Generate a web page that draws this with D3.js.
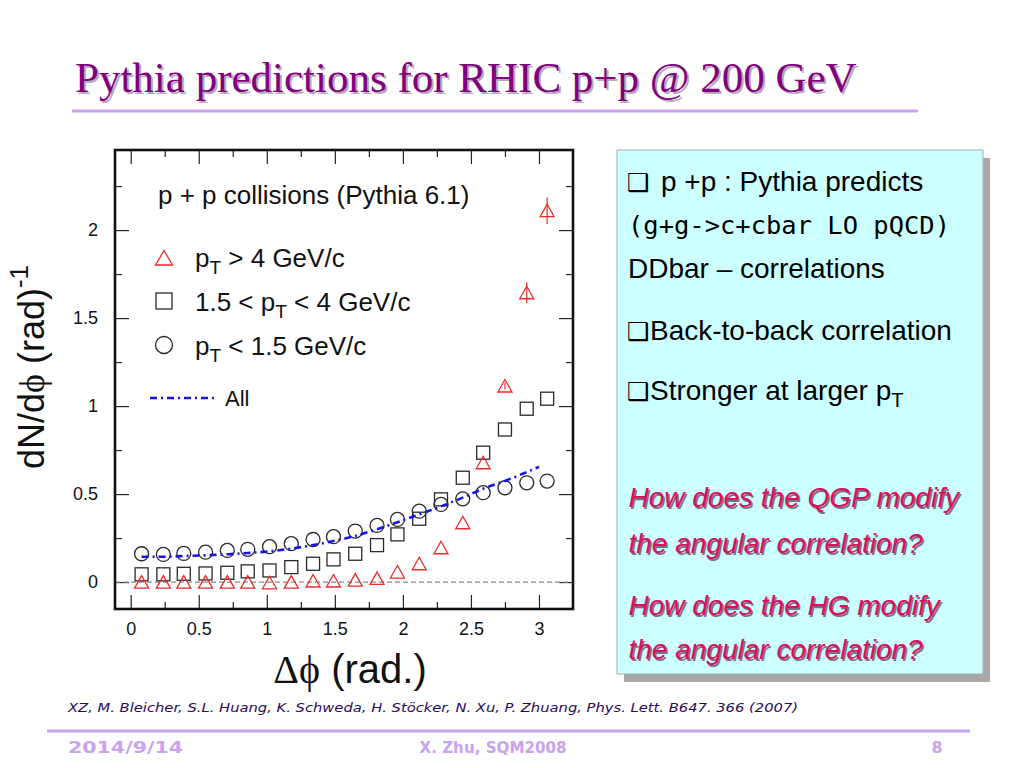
<!DOCTYPE html>
<html>
<head>
<meta charset="utf-8">
<script src="https://cdn.jsdelivr.net/npm/d3@7"></script>
<style>
  html, body { margin: 0; padding: 0; background: #fff; }
  svg { display: block; }
</style>
</head>
<body>
<svg id="chart" width="1024" height="768"></svg>
<script>
// ---------------- data ----------------
const binCenters = [0.08, 0.24, 0.39, 0.55, 0.71, 0.86, 1.02, 1.18, 1.34, 1.49,
                    1.65, 1.81, 1.96, 2.12, 2.28, 2.44, 2.59, 2.75, 2.91, 3.06];
const highPt = [0.0, 0.0, 0.0, 0.0, 0.0, 0.0, -0.004, 0.0, 0.006, 0.006,
                0.011, 0.021, 0.057, 0.104, 0.195, 0.337, 0.678, 1.114, 1.644, 2.11];
const highPtErr = [0, 0, 0, 0, 0, 0, 0, 0, 0, 0,
                   0, 0, 0, 0, 0, 0, 0, 0.02, 0.06, 0.075];
const midPt = [0.044, 0.044, 0.047, 0.049, 0.053, 0.061, 0.066, 0.085, 0.104, 0.129,
               0.161, 0.210, 0.271, 0.360, 0.470, 0.593, 0.735, 0.867, 0.985, 1.042];
const lowPt = [0.161, 0.157, 0.163, 0.170, 0.180, 0.186, 0.201, 0.218, 0.242, 0.258,
               0.290, 0.322, 0.356, 0.403, 0.441, 0.473, 0.508, 0.536, 0.564, 0.574];
const allX = [0.08, 0.24, 0.39, 0.55, 0.71, 0.86, 1.02, 1.18, 1.34, 1.49,
              1.65, 1.81, 1.96, 2.12, 2.28, 2.44, 2.59, 2.75, 2.91, 3.00];
const allVals = [0.144, 0.144, 0.148, 0.152, 0.158, 0.165, 0.175, 0.190, 0.210, 0.233,
                 0.262, 0.300, 0.340, 0.385, 0.430, 0.480, 0.530, 0.575, 0.625, 0.655];

const xMajorTicks = [0, 0.5, 1, 1.5, 2, 2.5, 3];
const xTickLabels = ["0", "0.5", "1", "1.5", "2", "2.5", "3"];
const xMinorTicks = [0.25, 0.75, 1.25, 1.75, 2.25, 2.75, 3.25];
const yMajorTicks = [0, 0.5, 1, 1.5, 2];
const yTickLabels = ["0", "0.5", "1", "1.5", "2"];
const yMinorTicks = [0.25, 0.75, 1.25, 1.75, 2.25];

const slideTitle = "Pythia predictions for RHIC p+p @ 200 GeV";
const citation = "XZ, M. Bleicher, S.L. Huang, K. Schweda, H. Stöcker, N. Xu, P. Zhuang, Phys. Lett. B647. 366 (2007)";
const footerDate = "2014/9/14";
const footerAuthor = "X. Zhu, SQM2008";
const footerPage = "8";

// ---------------- drawing ----------------
const svg = d3.select("#chart");
const SANS = "'Liberation Sans', Arial, sans-serif";
const SERIF = "'Liberation Serif', 'DejaVu Serif', serif";

// Title with shadow
const titleG = svg.append("g");
titleG.append("text").attr("x", 77).attr("y", 94)
  .attr("font-family", SERIF).attr("font-size", 43).attr("fill", "#b8a8b8")
  .text(slideTitle);
titleG.append("text").attr("x", 75).attr("y", 92)
  .attr("font-family", SERIF).attr("font-size", 43).attr("fill", "#800080")
  .text(slideTitle);
svg.append("line").attr("x1", 72).attr("x2", 918).attr("y1", 111).attr("y2", 111)
  .attr("stroke", "#c9a3ee").attr("stroke-width", 3);

// Plot
const L = 115, R = 573, T = 150, B = 609;
const x = d3.scaleLinear().domain([-0.1154, 3.25]).range([L, R]);
const y = d3.scaleLinear().domain([-0.153, 2.455]).range([B, T]);

const plot = svg.append("g");
plot.append("rect").attr("x", L).attr("y", T).attr("width", R - L).attr("height", B - T)
  .attr("fill", "#fff");

function styleAxis(g) {
  g.select(".domain").remove();
  g.selectAll(".tick line").attr("stroke", "#222").attr("stroke-width", 1.2);
  g.selectAll(".tick text").attr("font-family", SANS).attr("font-size", 18).attr("fill", "#111");
}
// bottom
plot.append("g").attr("transform", `translate(0,${B})`)
  .call(d3.axisBottom(x).tickValues(xMajorTicks).tickSizeInner(-14).tickSizeOuter(0)
    .tickPadding(13).tickFormat((d, i) => xTickLabels[i]))
  .call(styleAxis);
plot.append("g").attr("transform", `translate(0,${B})`)
  .call(d3.axisBottom(x).tickValues(xMinorTicks.filter(v => x(v) < R)).tickSizeInner(-7).tickSizeOuter(0).tickFormat(""))
  .call(styleAxis);
// top
plot.append("g").attr("transform", `translate(0,${T})`)
  .call(d3.axisTop(x).tickValues(xMajorTicks).tickSizeInner(-14).tickSizeOuter(0).tickFormat(""))
  .call(styleAxis);
plot.append("g").attr("transform", `translate(0,${T})`)
  .call(d3.axisTop(x).tickValues(xMinorTicks.filter(v => x(v) < R)).tickSizeInner(-7).tickSizeOuter(0).tickFormat(""))
  .call(styleAxis);
// left
plot.append("g").attr("transform", `translate(${L},0)`)
  .call(d3.axisLeft(y).tickValues(yMajorTicks).tickSizeInner(-14).tickSizeOuter(0)
    .tickPadding(17).tickFormat((d, i) => yTickLabels[i]))
  .call(styleAxis);
plot.append("g").attr("transform", `translate(${L},0)`)
  .call(d3.axisLeft(y).tickValues(yMinorTicks).tickSizeInner(-7).tickSizeOuter(0).tickFormat(""))
  .call(styleAxis);
// right
plot.append("g").attr("transform", `translate(${R},0)`)
  .call(d3.axisRight(y).tickValues(yMajorTicks).tickSizeInner(-14).tickSizeOuter(0).tickFormat(""))
  .call(styleAxis);
plot.append("g").attr("transform", `translate(${R},0)`)
  .call(d3.axisRight(y).tickValues(yMinorTicks).tickSizeInner(-7).tickSizeOuter(0).tickFormat(""))
  .call(styleAxis);

// zero dashed line
plot.append("line").attr("x1", L).attr("x2", R).attr("y1", y(0)).attr("y2", y(0))
  .attr("stroke", "#8a8a8a").attr("stroke-width", 1.2).attr("stroke-dasharray", "5,3");

const triPath = "M0,-6.5L7,6L-7,6Z";
const triPathLeg = "M0,-7.5L8.5,7L-8.5,7Z";
const RED = "#ee2a2a";
const DARK = "#2a2a2a";
const BLUE = "#1414e6";

// error bars for triangles
plot.append("g").selectAll("line")
  .data(binCenters.map((d, i) => ({ x: d, v: highPt[i], e: highPtErr[i] })).filter(d => d.e > 0))
  .join("line")
  .attr("x1", d => x(d.x)).attr("x2", d => x(d.x))
  .attr("y1", d => y(d.v + d.e)).attr("y2", d => y(d.v - d.e))
  .attr("stroke", RED).attr("stroke-width", 1.2);

// squares
plot.append("g").selectAll("rect")
  .data(binCenters.map((d, i) => [d, midPt[i]]))
  .join("rect")
  .attr("x", d => x(d[0]) - 6.5).attr("y", d => y(d[1]) - 6.5)
  .attr("width", 13).attr("height", 13)
  .attr("fill", "none").attr("stroke", DARK).attr("stroke-width", 1.3);

// circles
plot.append("g").selectAll("circle")
  .data(binCenters.map((d, i) => [d, lowPt[i]]))
  .join("circle")
  .attr("cx", d => x(d[0])).attr("cy", d => y(d[1])).attr("r", 7)
  .attr("fill", "none").attr("stroke", DARK).attr("stroke-width", 1.3);

// triangles
plot.append("g").selectAll("path")
  .data(binCenters.map((d, i) => [d, highPt[i]]))
  .join("path")
  .attr("d", triPath)
  .attr("transform", d => `translate(${x(d[0])},${y(d[1])})`)
  .attr("fill", "none").attr("stroke", RED).attr("stroke-width", 1.3);

// All curve
const line = d3.line().x(d => x(d[0])).y(d => y(d[1])).curve(d3.curveMonotoneX);
plot.append("path")
  .datum(allX.map((d, i) => [d, allVals[i]]))
  .attr("d", line)
  .attr("fill", "none").attr("stroke", BLUE).attr("stroke-width", 2.6)
  .attr("stroke-dasharray", "7,4,2,4");

// frame
plot.append("rect").attr("x", L).attr("y", T).attr("width", R - L).attr("height", B - T)
  .attr("fill", "none").attr("stroke", "#111").attr("stroke-width", 2.6);

// Legend inside plot
const leg = plot.append("g").attr("font-family", SANS).attr("font-size", 26).attr("fill", "#111");
leg.append("text").attr("x", 158).attr("y", 204).text("p + p collisions (Pythia 6.1)");

leg.append("path").attr("d", triPathLeg).attr("transform", "translate(164,258)")
  .attr("fill", "none").attr("stroke", RED).attr("stroke-width", 1.3);
const t1 = leg.append("text").attr("x", 195).attr("y", 267);
t1.append("tspan").text("p");
t1.append("tspan").attr("font-size", 19).attr("dy", 7).text("T");
t1.append("tspan").attr("dy", -7).text(" > 4 GeV/c");

leg.append("rect").attr("x", 156).attr("y", 293).attr("width", 16).attr("height", 16)
  .attr("fill", "none").attr("stroke", DARK).attr("stroke-width", 1.3);
const t2 = leg.append("text").attr("x", 195).attr("y", 311);
t2.append("tspan").text("1.5 < p");
t2.append("tspan").attr("font-size", 19).attr("dy", 7).text("T");
t2.append("tspan").attr("dy", -7).text(" < 4 GeV/c");

leg.append("circle").attr("cx", 164).attr("cy", 345).attr("r", 8.5)
  .attr("fill", "none").attr("stroke", DARK).attr("stroke-width", 1.3);
const t3 = leg.append("text").attr("x", 195).attr("y", 355);
t3.append("tspan").text("p");
t3.append("tspan").attr("font-size", 19).attr("dy", 7).text("T");
t3.append("tspan").attr("dy", -7).text(" < 1.5 GeV/c");

leg.append("line").attr("x1", 150).attr("x2", 215).attr("y1", 398).attr("y2", 398)
  .attr("stroke", BLUE).attr("stroke-width", 2.6).attr("stroke-dasharray", "7,4,2,4");
leg.append("text").attr("x", 225).attr("y", 406).attr("font-size", 22).text("All");

// Axis titles
const yt = svg.append("text").attr("transform", "translate(44,367) rotate(-90)")
  .attr("text-anchor", "middle").attr("font-family", SANS).attr("font-size", 36).attr("fill", "#111");
yt.append("tspan").text("dN/d");
yt.append("tspan").attr("font-family", SERIF).text("ϕ");
yt.append("tspan").text(" (rad)");
yt.append("tspan").attr("font-size", 26).attr("dy", -16).text("-1");

const xt = svg.append("text").attr("x", 350).attr("y", 683)
  .attr("text-anchor", "middle").attr("font-family", SANS).attr("font-size", 40).attr("fill", "#111");
xt.append("tspan").attr("font-family", SERIF).text("Δϕ");
xt.append("tspan").text(" (rad.)");

// Right text box
const bx = 617, by = 150, bw = 366, bh = 524;
svg.append("rect").attr("x", bx + 7).attr("y", by + 8).attr("width", bw).attr("height", bh)
  .attr("fill", "#a8a8a8");
svg.append("rect").attr("x", bx).attr("y", by).attr("width", bw).attr("height", bh)
  .attr("fill", "#ccffff").attr("stroke", "#9ab4b4").attr("stroke-width", 1);

const box = svg.append("g").attr("font-family", SANS).attr("font-size", 28).attr("fill", "#000");
function bullet(xp, yp) {
  box.append("text").attr("x", xp).attr("y", yp).attr("font-family", "'DejaVu Sans', sans-serif")
    .attr("font-size", 25).text("❑");
}
bullet(627, 191);
box.append("text").attr("x", 661).attr("y", 191).text("p +p : Pythia predicts");
box.append("text").attr("x", 628).attr("y", 234).attr("font-family", "'DejaVu Sans Mono', monospace")
  .attr("font-size", 25).attr("textLength", 322).attr("lengthAdjust", "spacingAndGlyphs")
  .text("(g+g->c+cbar LO pQCD)");
box.append("text").attr("x", 628).attr("y", 278).text("DDbar – correlations");
bullet(627, 340);
box.append("text").attr("x", 650).attr("y", 340).text("Back-to-back correlation");
bullet(627, 400);
const st = box.append("text").attr("x", 650).attr("y", 400);
st.append("tspan").text("Stronger at larger p");
st.append("tspan").attr("font-size", 20).attr("dy", 7).text("T");

const qs = [
  ["How does the QGP modify", 507],
  ["the angular correlation?", 553],
  ["How does the HG modify", 615],
  ["the angular correlation?", 659]
];
qs.forEach(([t, yp]) => {
  box.append("text").attr("x", 630).attr("y", yp + 1.5).attr("font-style", "italic")
    .attr("fill", "#4a1030").attr("opacity", 0.6).text(t);
  box.append("text").attr("x", 628.5).attr("y", yp).attr("font-style", "italic")
    .attr("fill", "#dc0f5e").text(t);
});

// Citation & footer
svg.append("text").attr("x", 68).attr("y", 712).attr("font-family", "'DejaVu Sans', sans-serif")
  .attr("font-style", "italic").attr("font-size", 12.5).attr("fill", "#2a0a5a")
  .attr("textLength", 730).attr("lengthAdjust", "spacingAndGlyphs").text(citation);
svg.append("line").attr("x1", 47).attr("x2", 970).attr("y1", 731).attr("y2", 731)
  .attr("stroke", "#c9a3ee").attr("stroke-width", 3);
const foot = svg.append("g").attr("font-family", "'DejaVu Sans', sans-serif").attr("font-weight", "bold")
  .attr("font-size", 16).attr("fill", "#c9a3ee");
foot.append("text").attr("x", 68).attr("y", 753).attr("textLength", 115).attr("lengthAdjust", "spacingAndGlyphs").text(footerDate);
foot.append("text").attr("x", 493).attr("y", 753).attr("text-anchor", "middle")
  .attr("textLength", 147).attr("lengthAdjust", "spacingAndGlyphs").text(footerAuthor);
foot.append("text").attr("x", 937).attr("y", 753).attr("text-anchor", "middle").text(footerPage);
</script>
</body>
</html>
